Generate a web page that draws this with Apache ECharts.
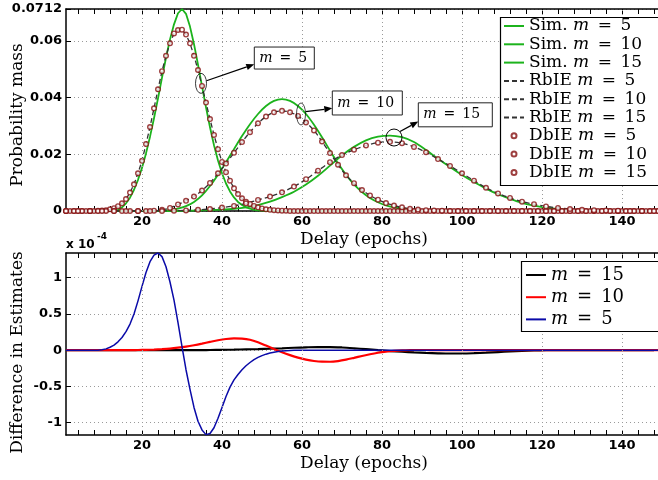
<!DOCTYPE html>
<html><head><meta charset="utf-8">
<script src="https://cdn.jsdelivr.net/npm/echarts@6/dist/echarts.min.js"></script>
<style>html,body{margin:0;padding:0;background:#fff}#c{width:658px;height:480px}</style>
</head><body><div id="c"></div>
<script>
// ---------- data (index i -> delay x = 1 + i*step) ----------
const X_START = 1;
// m = 5 : step 1
const est5 = [0,0,0,0,0,0,0,0,
0.0001,0.0002,0.0003,0.0006,0.001,0.0017,0.0027,0.0042,0.0065,0.0094,
0.0133,0.0177,0.0236,0.0296,0.0362,0.0429,0.0493,0.0547,0.0591,0.0626,
0.0638,0.0639,0.0622,0.0591,0.0547,0.0497,0.0441,0.0382,0.0324,0.0268,
0.0218,0.0173,0.0137,0.0107,0.008,0.006,0.0045,0.0033,0.0025,0.0018,
0.0013,0.0009,0.0006,0.0004,0.0003,0.0002,0.0001,0.0001,
0,0,0,0,0,0,0,0,0,0, 0,0,0,0,0,0,0,0,0,0, 0,0,0,0,0,0,0,0,0,0,
0,0,0,0,0,0,0,0,0,0, 0,0,0,0,0,0,0,0,0,0, 0,0,0,0,0,0,0,0,0,0,
0,0,0,0,0,0,0,0,0,0, 0,0,0,0,0,0,0,0,0,0, 0,0,0,0,0,0,0,0,0,0, 0,0,0,0];
const sim5 = [0,0,0,0,0,0,0,0,0,0,0,0,0,
0.0004,0.0013,0.0027,0.0047,0.0075,0.011,0.0152,0.0203,0.0262,0.0327,
0.0397,0.047,0.054,0.0605,0.0658,0.0697,0.0712,0.0695,0.065,0.0588,
0.0516,0.044,0.0365,0.0295,0.0232,0.0178,0.0133,0.0097,0.0069,0.0048,
0.0032,0.0021,0.0013,0.0008,0.0004,0.0002,0.0001,
0,0,0,0,0,0,0,0,0,0, 0,0,0,0,0,0,0,0,0,0, 0,0,0,0,0,0,0,0,0,0,
0,0,0,0,0,0,0,0,0,0, 0,0,0,0,0,0,0,0,0,0, 0,0,0,0,0,0,0,0,0,0,
0,0,0,0,0,0,0,0,0,0, 0,0,0,0,0,0,0,0,0,0, 0,0,0,0,0,0,0,0,0,0, 0,0,0,0,0,0,0,0,0,0];
const diff5 = [0,0,0,0,0,0,0,0,0,
0.005,0.018,0.04,0.07,0.115,0.175,0.255,0.36,0.5,0.68,
0.88,1.07,1.22,1.31,1.34,1.29,1.15,0.94,0.69,0.38,
0.05,-0.27,-0.54,-0.79,-0.98,-1.1,-1.165,-1.15,-1.07,-0.94,
-0.79,-0.64,-0.51,-0.41,-0.335,-0.27,-0.215,-0.17,-0.13,-0.1,
-0.075,-0.055,-0.04,-0.028,-0.019,-0.012,-0.007,-0.004,-0.002,-0.001,
0,0,0,0,0,0,0,0,0,0, 0,0,0,0,0,0,0,0,0,0, 0,0,0,0,0,0,0,0,0,0,
0,0,0,0,0,0,0,0,0,0, 0,0,0,0,0,0,0,0,0,0, 0,0,0,0,0,0,0,0,0,0,
0,0,0,0,0,0,0,0,0,0, 0,0,0,0,0,0,0,0,0,0, 0,0,0,0,0,0,0,0,0,0, 0];
// m = 10 : step 2
const est10 = [0,0,0,0,0,0,0,0,0,0,0,
0.0001,0.0004,0.0011,0.0023,0.0036,0.0051,0.0072,0.0099,0.0133,0.0167,
0.0205,0.0243,0.0278,0.0309,0.0333,0.0348,0.0353,0.0348,0.0335,0.0312,
0.0284,0.0245,0.0204,0.0163,0.0126,0.0098,0.0074,0.0055,0.004,0.0028,
0.0019,0.0013,0.0008,0.0005,0.0003,0.0002,0.0001,
0,0,0,0,0,0,0,0,0,0, 0,0,0,0,0,0,0,0,0,0, 0,0,0,0,0,0,0];
const sim10 = [0,0,0,0,0,0,0,0,0,0,0,0,
0.0001,0.0003,0.0008,0.0017,0.0032,0.0055,0.0088,0.0128,0.0172,0.0218,
0.0264,0.0306,0.0342,0.037,0.0388,0.0394,0.0388,0.037,0.0342,0.0304,
0.026,0.0213,0.0168,0.0128,0.0094,0.0067,0.0046,0.0031,0.002,0.0013,
0.0008,0.0005,0.0003,0.0001,
0,0,0,0,0,0,0,0,0,0, 0,0,0,0,0,0,0,0,0,0, 0,0,0,0,0,0,0,0,0];
const diff10 = [0,0,0,0,0,0,0,0,0,
0.002,0.004,0.008,0.014,0.022,0.034,0.049,0.068,0.09,0.114,
0.137,0.154,0.163,0.16,0.143,0.108,0.063,0.017,-0.028,-0.068,
-0.103,-0.13,-0.149,-0.159,-0.16,-0.15,-0.131,-0.106,-0.08,-0.056,
-0.036,-0.021,-0.011,-0.004,0,0.002,0.002,0.001,
0,0,0,0,0,0,0,0,0,0, 0,0,0,0,0,0,0,0,0,0, 0,0,0,0,0,0,0,0];
// m = 15 : step 3
const est15 = [0,0,0,0,0,0,0,0,0,
0.0001,0.0002,0.0004,0.0007,0.0012,0.0018,0.0027,0.0039,0.0051,0.0066,
0.0086,0.0112,0.0142,0.0172,0.0197,0.0216,0.0231,0.0241,0.0244,0.0239,
0.0226,0.0207,0.0183,0.0159,0.0133,0.0107,0.0082,0.0062,0.0046,0.0033,
0.0024,0.0016,0.0011,0.0007,0.0004,0.0003,0.0002,0.0001,
0,0,0];
const sim15 = [0,0,0,0,0,0,0,0,0,0,
0.0001,0.0002,0.0003,0.0005,0.0008,0.0013,0.0021,0.0033,0.0049,0.0068,
0.0093,0.0124,0.016,0.0196,0.0226,0.0249,0.0262,0.0266,0.026,0.0243,
0.0215,0.0184,0.0155,0.0127,0.0102,0.0079,0.0059,0.0043,0.0029,0.0019,
0.0012,0.0007,0.0004,0.0002,0.0001,
0,0,0,0,0];
const diff15 = [0,0,0,0,0,0,0,0,0,0,0,0,
0.002,0.004,0.007,0.011,0.015,0.02,0.026,0.033,0.039,0.043,
0.043,0.037,0.026,0.013,0,-0.012,-0.022,-0.031,-0.038,-0.043,
-0.046,-0.046,-0.042,-0.035,-0.026,-0.017,-0.009,-0.004,-0.001,
0,0,0,0,0,0,0,0,0];

// ---------- ticks ----------
const xLabelTicks = [20,40,60,80,100,120,140];
const xMinorTicks = [4,8,12,16,20,24,28,32,36,40,44,48,52,56,60,64,68,72,76,80,84,88,92,96,100,104,108,112,116,120,124,128,132,136,140,144,148];
const yTopTicks = [0,0.02,0.04,0.06,0.0712];
const yBotTicks = [-1,-0.5,0,0.5,1];

const simNames = ['Sim. m = 5','Sim. m = 10','Sim. m = 15'];
const rbieNames = ['RbIE m = 5','RbIE m = 10','RbIE m = 15'];
const dbieNames = ['DbIE m = 5','DbIE m = 10','DbIE m = 15'];
const botNames = ['m = 15','m = 10','m = 5'];

// annotations: anchor in data coords; the rest is layout (px)
const annotations = [
  {label:'5',  at:[34.75,0.045],  r:[5.5,10],  box:[53.3,-36.3,60,22], from:[5.5,-2.6], to:[0,17.3]},
  {label:'10', at:[59.75,0.0342], r:[4.5,11],  box:[31.3,-23,70,24],   from:[4.6,-2.3], to:[0,17.3]},
  {label:'15', at:[83,0.0259],    r:[8,8.5],   box:[24.3,-34.7,74,24], from:[6,-6],     to:[0,18.7]}
];

// ---------- helpers ----------
const pairs = (arr, step) => arr.map((v, i) => [X_START + i * step, v]);
const SERIF = '"DejaVu Serif", serif';
const SANS = '"DejaVu Sans", sans-serif';
const GREEN = '#1cb31c', DASH = '#333333', MARK = '#850f0f';
const tickLbl = {fontFamily: SANS, fontWeight: 'bold', fontSize: 13, color: '#000'};
const noDot = {color: 'rgba(0,0,0,0)', borderWidth: 0, opacity: 0};

function xAxisDef(gridIndex, position, withLabels) {
  return {
    type: 'value', gridIndex, position, min: 1, max: 150,
    axisLine: {show: true, onZero: false, lineStyle: {color: '#000', width: 1.5}},
    axisTick: {show: true, inside: true, length: 5, customValues: xMinorTicks, lineStyle: {color: '#000', width: 1}},
    axisLabel: withLabels ? Object.assign({show: true, margin: 4, customValues: xLabelTicks}, tickLbl) : {show: false},
    splitLine: {show: false},
    name: withLabels ? 'Delay (epochs)' : '',
    nameLocation: 'middle', nameGap: 20, nameMoveOverlap: false,
    nameTextStyle: {fontFamily: SERIF, fontSize: 17, color: '#000'}
  };
}
const gridLineStyle = {type: [1, 3], color: '#9a9a9a', width: 1};

const chart = echarts.init(document.getElementById('c'), null, {renderer: 'canvas'});
const legendFmt = name => {
  const parts = name.split('m = ');
  return parts[0] + '{i|m}\u2002=\u2002' + parts[1];
};
const lineSeries = (name, data, step, color, type, width) => ({
  name, type: 'line', xAxisIndex: 0, yAxisIndex: 0, data: pairs(data, step),
  symbol: 'none', smooth: step === 1 ? false : 0.3, clip: true, z: 2,
  lineStyle: {color, width, type}, itemStyle: {color}
});
const dotSeries = (name, data, step) => ({
  name, type: 'scatter', xAxisIndex: 0, yAxisIndex: 0, data: pairs(data, step),
  symbol: 'circle', symbolSize: 4.6, z: 4,
  itemStyle: {color: '#fff', borderColor: MARK, borderWidth: 1.4}
});
const diffSeries = (name, data, step, color, width) => ({
  name, type: 'line', xAxisIndex: 2, yAxisIndex: 1, data: pairs(data, step),
  symbol: 'none', smooth: step === 1 ? false : 0.3, z: 2,
  lineStyle: {color, width}, itemStyle: {color}
});

chart.setOption({
  animation: false,
  backgroundColor: '#fff',
  grid: [
    {left: 66, top: 9, right: -4, height: 202, outerBoundsMode: 'none', containLabel: false},
    {left: 66, top: 253, right: -4, height: 182, outerBoundsMode: 'none', containLabel: false}
  ],
  xAxis: [xAxisDef(0, 'bottom', true), xAxisDef(0, 'top', false), xAxisDef(1, 'bottom', true), xAxisDef(1, 'top', false)],
  yAxis: [
    {type: 'value', gridIndex: 0, min: 0, max: 0.0712, interval: 0.02,
     axisLine: {show: true, onZero: false, lineStyle: {color: '#000', width: 1.5}},
     axisTick: {show: true, inside: true, length: 5, lineStyle: {color: '#000'}},
     axisLabel: Object.assign({margin: 4, customValues: yTopTicks, formatter: v => String(+v.toFixed(4))}, tickLbl),
     splitLine: {show: true, lineStyle: gridLineStyle},
     name: 'Probability mass', nameLocation: 'middle', nameGap: 40, nameMoveOverlap: false,
     nameTextStyle: {fontFamily: SERIF, fontSize: 17, color: '#000', padding: [0, 10, 0, 0]}},
    {type: 'value', gridIndex: 1, min: -1.17, max: 1.34,
     axisLine: {show: true, onZero: false, lineStyle: {color: '#000', width: 1.5}},
     axisTick: {show: true, inside: true, length: 5, customValues: yBotTicks, lineStyle: {color: '#000'}},
     axisLabel: Object.assign({margin: 4, customValues: yBotTicks, formatter: v => String(v)}, tickLbl),
     splitLine: {show: true, lineStyle: gridLineStyle},
     name: 'Difference in Estimates', nameLocation: 'middle', nameGap: 40, nameMoveOverlap: false,
     nameTextStyle: {fontFamily: SERIF, fontSize: 17, color: '#000', padding: [0, 17, 0, 0]}}
  ],
  legend: [
    {left: 500, top: 17, orient: 'vertical', selectedMode: false, z: 8,
     data: simNames.concat(rbieNames).map(n => ({name: n, itemStyle: noDot})).concat(dbieNames.map(n => ({name: n}))),
     itemWidth: 20, itemHeight: 5, itemGap: 0.3, padding: [0, 10, 3, 3],
     borderWidth: 0, backgroundColor: 'transparent',
     formatter: legendFmt,
     textStyle: {fontFamily: SERIF, fontSize: 17, color: '#000', lineHeight: 18,
       rich: {i: {fontFamily: SERIF, fontStyle: 'italic', fontSize: 17, color: '#000', lineHeight: 18}}}},
    {left: 522, top: 262, orient: 'vertical', selectedMode: false, z: 8,
     data: botNames.map(n => ({name: n, itemStyle: noDot})),
     itemWidth: 20, itemHeight: 5, itemGap: 0.2, padding: [2, 10, 1, 3],
     borderWidth: 0, backgroundColor: 'transparent',
     formatter: legendFmt,
     textStyle: {fontFamily: SERIF, fontSize: 18, color: '#000', lineHeight: 22,
       rich: {i: {fontFamily: SERIF, fontStyle: 'italic', fontSize: 18, color: '#000', lineHeight: 22}}}}
  ],
  series: [
    {type: 'line', xAxisIndex: 0, yAxisIndex: 0, data: [], silent: true, z: 1,
     markLine: {silent: true, symbol: ['none', 'none'], label: {show: false}, lineStyle: gridLineStyle,
       emphasis: {disabled: true}, data: xLabelTicks.map(v => ({xAxis: v}))}},
    {type: 'line', xAxisIndex: 2, yAxisIndex: 1, data: [], silent: true, z: 1,
     markLine: {silent: true, symbol: ['none', 'none'], label: {show: false}, lineStyle: gridLineStyle,
       emphasis: {disabled: true}, data: xLabelTicks.map(v => ({xAxis: v}))}},
    lineSeries(simNames[0], sim5, 1, GREEN, 'solid', 1.8),
    lineSeries(simNames[1], sim10, 2, GREEN, 'solid', 1.8),
    lineSeries(simNames[2], sim15, 3, GREEN, 'solid', 1.8),
    lineSeries(rbieNames[0], est5, 1, DASH, [5, 3], 1.3),
    lineSeries(rbieNames[1], est10, 2, DASH, [5, 3], 1.3),
    lineSeries(rbieNames[2], est15, 3, DASH, [5, 3], 1.3),
    dotSeries(dbieNames[0], est5, 1),
    dotSeries(dbieNames[1], est10, 2),
    dotSeries(dbieNames[2], est15, 3),
    diffSeries(botNames[0], diff15, 3, '#000000', 2.2),
    diffSeries(botNames[1], diff10, 2, '#ff0000', 2.2),
    diffSeries(botNames[2], diff5, 1, '#0a0aa8', 1.5)
  ]
});

// ---------- legend frames, annotations & exponent label ----------
const g = [];
// legend frames run past the right edge of the page, as in the reference
g.push({type: 'rect', z: 6, shape: {x: 500.5, y: 17.5, width: 220, height: 168}, style: {fill: '#fff', stroke: '#000', lineWidth: 1.2}});
g.push({type: 'rect', z: 6, shape: {x: 521.5, y: 261.5, width: 220, height: 70}, style: {fill: '#fff', stroke: '#000', lineWidth: 1.2}});
annotations.forEach(a => {
  const [cx, cy] = chart.convertToPixel({gridIndex: 0}, a.at);
  g.push({type: 'circle', x: cx, y: cy, scaleX: a.r[0] / a.r[1], z: 100,
    shape: {cx: 0, cy: 0, r: a.r[1]}, style: {fill: 'none', stroke: '#000', lineWidth: 1, strokeNoScale: true}});
  const bx = cx + a.box[0], by = cy + a.box[1];
  const sx = cx + a.from[0], sy = cy + a.from[1];
  const ex = bx + a.to[0], ey = by + a.to[1];
  const ang = Math.atan2(ey - sy, ex - sx), L = 8, W = 3.2;
  const hx = ex - L * Math.cos(ang), hy = ey - L * Math.sin(ang);
  g.push({type: 'line', z: 100, shape: {x1: sx, y1: sy, x2: hx, y2: hy}, style: {stroke: '#000', lineWidth: 1.2}});
  g.push({type: 'polygon', z: 100, shape: {points: [[ex, ey],
    [hx + W * Math.sin(ang), hy - W * Math.cos(ang)], [hx - W * Math.sin(ang), hy + W * Math.cos(ang)]]},
    style: {fill: '#000'}});
  g.push({type: 'rect', z: 100, shape: {x: bx, y: by, width: a.box[2], height: a.box[3]},
    style: {fill: '#fff', stroke: '#222', lineWidth: 1}});
  g.push({type: 'text', z: 101, x: bx + 5, y: by + a.box[3] / 2,
    style: {text: '{i|m}\u2002=\u2002' + a.label, fontFamily: SERIF, fontSize: 14, fill: '#000', verticalAlign: 'middle',
      rich: {i: {fontFamily: SERIF, fontStyle: 'italic', fontSize: 14, fill: '#000'}}}});
});
g.push({type: 'text', z: 100, x: 66, y: 245, style: {text: 'x 10', fontFamily: SANS, fontWeight: 'bold', fontSize: 12, fill: '#000', verticalAlign: 'middle'}});
g.push({type: 'text', z: 100, x: 97, y: 237, style: {text: '-4', fontFamily: SANS, fontWeight: 'bold', fontSize: 9, fill: '#000', verticalAlign: 'middle'}});
chart.setOption({graphic: g});
</script>
</body></html>
